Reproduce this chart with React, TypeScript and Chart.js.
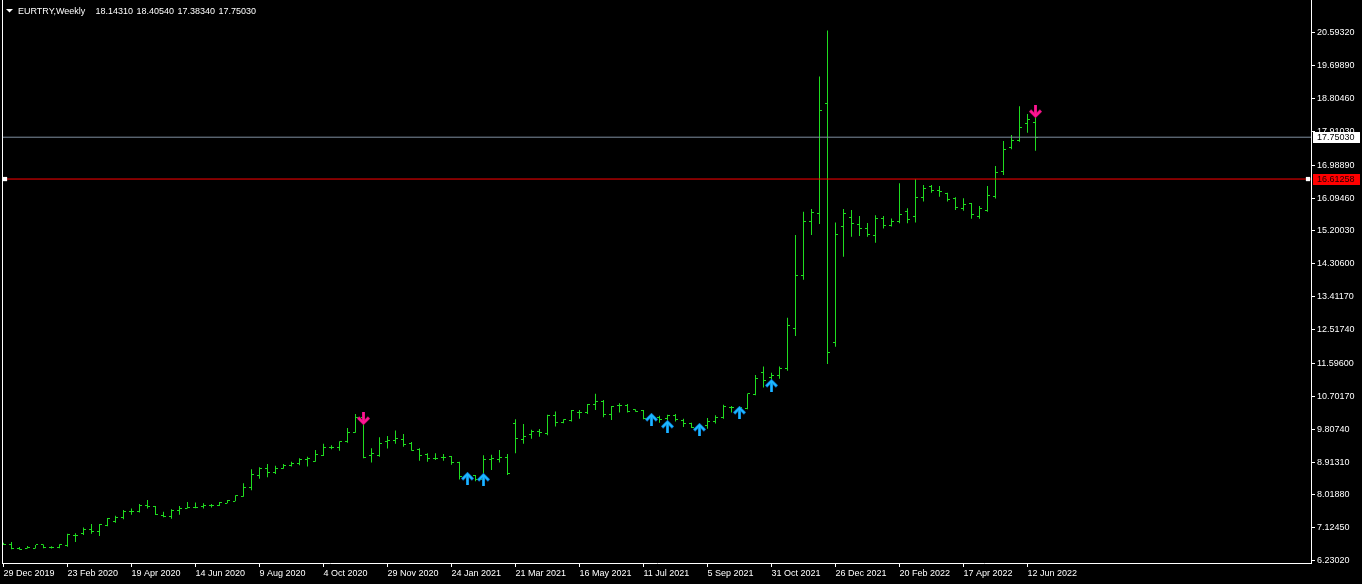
import React, { useEffect, useRef } from "react";
import { Chart, registerables } from "chart.js";

Chart.register(...registerables);

const SYMBOL = "EURTRY,Weekly";

const xTickLabels = [
  "29 Dec 2019", "23 Feb 2020", "19 Apr 2020", "14 Jun 2020", "9 Aug 2020", "4 Oct 2020",
  "29 Nov 2020", "24 Jan 2021", "21 Mar 2021", "16 May 2021", "11 Jul 2021", "5 Sep 2021",
  "31 Oct 2021", "26 Dec 2021", "20 Feb 2022", "17 Apr 2022", "12 Jun 2022",
];
const X_TICK_STEP = 8;

const yTickValues = [
  6.2302, 7.1245, 8.0188, 8.9131, 9.8074, 10.7017, 11.596, 12.5174, 13.4117,
  14.306, 15.2003, 16.0946, 16.9889, 17.9103, 18.8046, 19.6989, 20.5932,
];

const opens = [
  6.70, 6.68, 6.57, 6.57, 6.57, 6.66, 6.58, 6.60, 6.65, 6.92,
  6.96, 7.09, 7.03, 7.19, 7.30, 7.41, 7.56, 7.57, 7.72, 7.70,
  7.47, 7.43, 7.59, 7.66, 7.68, 7.70, 7.72, 7.74, 7.79, 7.85,
  7.97, 8.23, 8.55, 8.75, 8.64, 8.75, 8.83, 8.88, 8.99, 8.93,
  9.10, 9.32, 9.32, 9.46, 9.73, 10.13, 9.08, 9.08, 9.47, 9.51,
  9.53, 9.41, 9.26, 9.11, 9.02, 9.04, 9.06, 8.90, 8.52, 8.55,
  8.43, 8.99, 8.99, 9.04, 9.95, 9.53, 9.65, 9.75, 9.70, 10.17,
  9.98, 10.04, 10.26, 10.26, 10.47, 10.55, 10.20, 10.46, 10.46, 10.33,
  10.31, 10.09, 10.13, 10.09, 10.17, 10.05, 9.97, 9.86, 9.91, 10.02,
  10.13, 10.40, 10.38, 10.38, 10.76, 11.36, 11.22, 11.26, 11.46, 12.55,
  13.99, 15.46, 15.68, 18.67, 12.17, 15.33, 15.57, 15.38, 15.27, 15.08,
  15.55, 15.35, 15.47, 15.72, 15.59, 16.12, 16.42, 16.31, 16.22, 16.09,
  15.82, 15.95, 15.59, 15.75, 16.13, 16.83, 17.48, 17.67, 18.13, 18.1431,
];
const highs = [
  6.72, 6.74, 6.60, 6.63, 6.66, 6.67, 6.62, 6.68, 6.96, 6.98,
  7.13, 7.23, 7.23, 7.39, 7.45, 7.61, 7.65, 7.77, 7.88, 7.72,
  7.56, 7.63, 7.72, 7.83, 7.81, 7.79, 7.77, 7.83, 7.88, 8.01,
  8.34, 8.72, 8.77, 8.86, 8.81, 8.86, 8.92, 9.02, 9.06, 9.24,
  9.41, 9.37, 9.48, 9.84, 10.22, 10.25, 9.29, 9.59, 9.62, 9.77,
  9.68, 9.46, 9.29, 9.15, 9.15, 9.13, 9.08, 8.92, 8.64, 8.56,
  9.10, 9.11, 9.24, 9.13, 10.08, 9.95, 9.79, 9.81, 10.20, 10.29,
  10.08, 10.33, 10.33, 10.49, 10.77, 10.60, 10.44, 10.51, 10.49, 10.35,
  10.33, 10.25, 10.17, 10.20, 10.22, 10.09, 9.98, 9.95, 10.11, 10.19,
  10.47, 10.44, 10.44, 10.78, 11.28, 11.51, 11.34, 11.51, 12.84, 15.09,
  15.72, 15.80, 19.40, 20.65, 15.43, 15.80, 15.77, 15.61, 15.42, 15.63,
  15.61, 15.54, 16.50, 15.82, 16.61, 16.45, 16.45, 16.42, 16.24, 16.12,
  16.09, 15.96, 15.88, 16.42, 16.97, 17.65, 17.81, 18.59, 18.38, 18.4054,
];
const lows = [
  6.66, 6.54, 6.53, 6.56, 6.56, 6.57, 6.56, 6.57, 6.61, 6.74,
  6.93, 6.96, 6.90, 7.17, 7.26, 7.36, 7.48, 7.54, 7.65, 7.47,
  7.41, 7.37, 7.48, 7.65, 7.66, 7.65, 7.68, 7.72, 7.79, 7.85,
  7.97, 8.15, 8.46, 8.50, 8.59, 8.73, 8.79, 8.83, 8.79, 8.92,
  9.08, 9.26, 9.22, 9.44, 9.71, 9.02, 8.90, 9.06, 9.28, 9.41,
  9.33, 9.22, 8.95, 8.92, 8.97, 8.95, 8.84, 8.44, 8.43, 8.39,
  8.37, 8.70, 8.90, 8.56, 9.15, 9.41, 9.55, 9.60, 9.64, 9.88,
  9.97, 10.02, 10.09, 10.22, 10.33, 10.13, 10.06, 10.26, 10.26, 10.28,
  10.08, 10.03, 9.98, 9.92, 10.02, 9.87, 9.84, 9.73, 9.82, 9.96,
  10.09, 10.26, 10.25, 10.35, 10.73, 10.94, 11.12, 11.18, 11.40, 12.34,
  13.87, 15.09, 15.39, 11.58, 12.05, 14.50, 15.04, 15.06, 15.04, 14.88,
  15.27, 15.32, 15.41, 15.41, 15.43, 16.00, 16.24, 16.13, 16.00, 15.77,
  15.75, 15.53, 15.53, 15.72, 16.08, 16.72, 17.42, 17.63, 17.87, 17.3834,
];
const closes = [
  6.68, 6.56, 6.54, 6.58, 6.66, 6.60, 6.60, 6.67, 6.94, 6.92,
  7.07, 7.03, 7.21, 7.37, 7.41, 7.57, 7.57, 7.74, 7.70, 7.48,
  7.43, 7.59, 7.66, 7.68, 7.68, 7.72, 7.74, 7.81, 7.86, 8.01,
  8.23, 8.57, 8.75, 8.64, 8.75, 8.83, 8.88, 8.99, 9.01, 9.13,
  9.32, 9.32, 9.48, 9.71, 10.13, 9.04, 9.15, 9.42, 9.49, 9.55,
  9.38, 9.24, 9.10, 9.02, 9.02, 9.04, 8.90, 8.52, 8.55, 8.43,
  8.99, 9.02, 9.04, 8.61, 9.56, 9.62, 9.75, 9.71, 10.17, 9.98,
  10.06, 10.31, 10.26, 10.47, 10.57, 10.20, 10.42, 10.46, 10.28, 10.29,
  10.09, 10.17, 10.08, 10.19, 10.08, 9.97, 9.86, 9.92, 10.03, 10.13,
  10.43, 10.40, 10.41, 10.78, 11.19, 11.14, 11.28, 11.46, 12.64, 13.99,
  15.46, 15.71, 18.48, 11.90, 15.11, 15.68, 15.41, 15.27, 15.11, 15.54,
  15.35, 15.47, 15.66, 15.50, 16.12, 16.36, 16.31, 16.26, 16.06, 15.84,
  15.93, 15.66, 15.80, 16.17, 16.80, 17.42, 17.66, 18.02, 18.22, 17.7503,
];

const bidPrice = 17.7503;
const levelPrice = 16.61258;

const upArrowBars = [58, 60, 81, 83, 87, 92, 96];
const upArrowValues = [8.47, 8.44, 10.07, 9.88, 9.79, 10.26, 11.0];
const downArrowBars = [45, 129];
const downArrowValues = [10.09, 18.46];

const X_MIN = -0.0625;
const X_MAX = 163.4375;
const Y_MIN = 6.1676;
const Y_MAX = 21.483;

const BAR_GREEN = "#1fdc1f";
const FONT = '"Liberation Sans", Arial, sans-serif';

function makeTick(color: string, side: "left" | "right") {
  const c = document.createElement("canvas");
  c.width = 5;
  c.height = 1;
  const g = c.getContext("2d")!;
  g.fillStyle = color;
  if (side === "left") g.fillRect(0, 0, 2, 1);
  else g.fillRect(3, 0, 2, 1);
  return c;
}

function makeArrow(main: string, edge: string, down: boolean) {
  const c = document.createElement("canvas");
  c.width = 13;
  c.height = 13;
  const g = c.getContext("2d")!;
  if (down) {
    g.translate(0, 13);
    g.scale(1, -1);
  }
  g.lineCap = "butt";
  g.lineJoin = "miter";
  g.strokeStyle = edge;
  g.lineWidth = 3.2;
  g.beginPath();
  g.moveTo(1, 7.5);
  g.lineTo(6.5, 2);
  g.lineTo(12, 7.5);
  g.stroke();
  g.fillStyle = edge;
  g.fillRect(5, 2, 3, 11);
  g.strokeStyle = main;
  g.lineWidth = 1.8;
  g.beginPath();
  g.moveTo(1.5, 7);
  g.lineTo(6.5, 2);
  g.lineTo(11.5, 7);
  g.stroke();
  g.fillStyle = main;
  g.fillRect(5.5, 2, 2, 11);
  return c;
}

function zeroPadding(s: any) {
  s.paddingLeft = 0;
  s.paddingRight = 0;
  s.paddingTop = 0;
  s.paddingBottom = 0;
}

export default function App() {
  const ref = useRef<HTMLCanvasElement>(null);

  useEffect(() => {
    document.body.style.margin = "0";
    document.body.style.background = "#000";
    const canvas = ref.current!;
    const openTick = makeTick(BAR_GREEN, "left");
    const closeTick = makeTick(BAR_GREEN, "right");
    const upArrow = makeArrow("#1cb8ff", "#0a6fc4", false);
    const downArrow = makeArrow("#ff1493", "#c8106e", true);
    const last = closes.length - 1;

    const bgPlugin = {
      id: "bg",
      beforeDraw(chart: any) {
        const ctx = chart.ctx;
        ctx.save();
        ctx.fillStyle = "#000";
        ctx.fillRect(0, 0, chart.width, chart.height);
        ctx.restore();
      },
      beforeDatasetsDraw(chart: any) {
        chart.ctx.imageSmoothingEnabled = false;
      },
      afterDatasetsDraw(chart: any) {
        chart.ctx.imageSmoothingEnabled = true;
      },
    };

    const decorPlugin = {
      id: "decor",
      afterDraw(chart: any) {
        const ctx = chart.ctx;
        const area = chart.chartArea;
        const ys = chart.scales.y;
        ctx.save();
        ctx.fillStyle = "#ffffff";
        ctx.fillRect(area.left - 1, 0, 1, area.bottom + 1);
        ctx.font = `9px ${FONT}`;
        ctx.textAlign = "left";
        ctx.textBaseline = "middle";
        const boxes = [
          { v: bidPrice, bg: "#ffffff", fg: "#000000" },
          { v: levelPrice, bg: "#ff0000", fg: "#200000" },
        ];
        boxes.forEach((b) => {
          const y = Math.round(ys.getPixelForValue(b.v));
          ctx.fillStyle = b.bg;
          ctx.fillRect(area.right + 2, y - 5, 47, 11);
          ctx.fillStyle = b.fg;
          ctx.fillText(b.v.toFixed(5), area.right + 6, y + 0.5);
        });
        ctx.fillStyle = "#ffffff";
        ctx.beginPath();
        ctx.moveTo(6, 9);
        ctx.lineTo(13, 9);
        ctx.lineTo(9.5, 12.5);
        ctx.closePath();
        ctx.fill();
        ctx.textBaseline = "alphabetic";
        ctx.fillText(SYMBOL, 18, 14);
        const ohlc = [opens[last], highs[last], lows[last], closes[last]];
        ohlc.forEach((v, k) => ctx.fillText(v.toFixed(5), 95.5 + 41 * k, 14));
        ctx.restore();
      },
    };

    const chart = new Chart(canvas, {
      type: "scatter",
      data: {
        datasets: [
          {
            type: "scatter",
            label: "handles",
            data: [
              { x: X_MIN + 0.25, y: levelPrice },
              { x: X_MAX - 0.375, y: levelPrice },
            ],
            pointStyle: "rect",
            pointRadius: 3,
            backgroundColor: "#ffffff",
            borderWidth: 0,
            order: -1,
            clip: false,
          } as any,
          {
            type: "line",
            label: "bid",
            data: [
              { x: X_MIN, y: bidPrice },
              { x: X_MAX, y: bidPrice },
            ],
            borderColor: "#7f8fa0",
            borderWidth: 1,
            pointRadius: 0,
            showLine: true,
            order: 0,
          },
          {
            type: "line",
            label: "level",
            data: [
              { x: X_MIN, y: levelPrice },
              { x: X_MAX, y: levelPrice },
            ],
            borderColor: "#ff0000",
            borderWidth: 1,
            pointRadius: 0,
            showLine: true,
            order: 1,
          },
          {
            type: "scatter",
            label: "down",
            data: downArrowBars.map((b, k) => ({ x: b, y: downArrowValues[k] })),
            pointStyle: downArrow,
            pointRadius: 6,
            order: 2,
          } as any,
          {
            type: "scatter",
            label: "up",
            data: upArrowBars.map((b, k) => ({ x: b, y: upArrowValues[k] })),
            pointStyle: upArrow,
            pointRadius: 6,
            order: 2,
          } as any,
          {
            type: "scatter",
            label: "open",
            data: opens.map((o, i) => ({ x: i, y: o })),
            pointStyle: openTick,
            pointRadius: 1,
            order: 3,
          } as any,
          {
            type: "scatter",
            label: "close",
            data: closes.map((c, i) => ({ x: i, y: c })),
            pointStyle: closeTick,
            pointRadius: 1,
            order: 3,
          } as any,
          {
            type: "bar",
            label: "range",
            data: highs.map((h, i) => ({ x: i, y: [lows[i], h] })),
            backgroundColor: BAR_GREEN,
            barThickness: 1,
            borderWidth: 0,
            inflateAmount: 0,
            order: 4,
          } as any,
        ],
      },
      options: {
        responsive: false,
        animation: false,
        devicePixelRatio: 1,
        events: [],
        layout: { autoPadding: false, padding: { left: 3, top: 0, right: 0, bottom: 0 } },
        plugins: {
          legend: { display: false },
          tooltip: { enabled: false },
          title: { display: false },
        },
        scales: {
          x: {
            type: "linear",
            position: "bottom",
            min: X_MIN,
            max: X_MAX,
            offset: false,
            afterBuildTicks: (s: any) => {
              s.ticks = xTickLabels.map((_, k) => ({ value: k * X_TICK_STEP }));
            },
            afterFit: (s: any) => {
              s.height = 21;
              zeroPadding(s);
            },
            grid: {
              display: true,
              drawOnChartArea: false,
              drawTicks: true,
              tickLength: 4,
              color: "#ffffff",
              lineWidth: 1,
              offset: false,
            },
            border: { display: true, color: "#ffffff", width: 1 },
            ticks: {
              color: "#ffffff",
              font: { family: FONT, size: 9 },
              align: "start",
              maxRotation: 0,
              minRotation: 0,
              autoSkip: false,
              padding: 1,
              callback: (_v: any, idx: number) => xTickLabels[idx],
            },
          } as any,
          y: {
            type: "linear",
            position: "right",
            min: Y_MIN,
            max: Y_MAX,
            afterBuildTicks: (s: any) => {
              s.ticks = yTickValues.map((v) => ({ value: v }));
            },
            afterFit: (s: any) => {
              s.width = 51;
              zeroPadding(s);
            },
            grid: {
              display: true,
              drawOnChartArea: false,
              drawTicks: true,
              tickLength: 4,
              color: "#ffffff",
              lineWidth: 1,
            },
            border: { display: true, color: "#ffffff", width: 1 },
            ticks: {
              color: "#ffffff",
              font: { family: FONT, size: 9 },
              padding: 2,
              autoSkip: false,
              callback: (v: any) => Number(v).toFixed(5),
            },
          } as any,
        },
      },
      plugins: [bgPlugin, decorPlugin],
    });

    return () => chart.destroy();
  }, []);

  return (
    <canvas
      ref={ref}
      width={1362}
      height={584}
      style={{ display: "block", width: 1362, height: 584 }}
    />
  );
}
